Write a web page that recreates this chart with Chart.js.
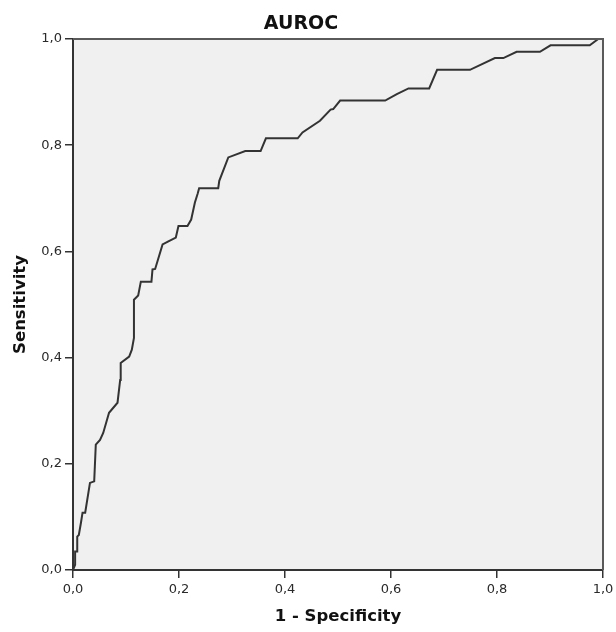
<!DOCTYPE html>
<html>
<head>
<meta charset="utf-8">
<script src="https://cdn.jsdelivr.net/npm/chart.js@4/dist/chart.umd.min.js"></script>
<style>
  html, body { margin: 0; padding: 0; background: #ffffff; }
  canvas { display: block; }
</style>
</head>
<body>
<canvas id="c" width="616" height="632"></canvas>
<script>
// ROC curve data (1 - Specificity, Sensitivity)
const fpr = [0.000, 0.004, 0.004, 0.008, 0.008, 0.011, 0.015, 0.018, 0.023, 0.032,
             0.040, 0.043, 0.051, 0.057, 0.068, 0.084, 0.089, 0.090, 0.106, 0.111,
             0.115, 0.115, 0.123, 0.128, 0.148, 0.150, 0.155, 0.169, 0.180, 0.194,
             0.199, 0.216, 0.223, 0.230, 0.235, 0.238, 0.274, 0.276, 0.293, 0.325,
             0.354, 0.364, 0.424, 0.433, 0.466, 0.486, 0.491, 0.504, 0.589, 0.611,
             0.633, 0.672, 0.687, 0.749, 0.796, 0.812, 0.837, 0.881, 0.901, 0.975,
             0.991, 1.000];
const tpr = [0.000, 0.010, 0.035, 0.035, 0.063, 0.066, 0.089, 0.108, 0.108, 0.164,
             0.167, 0.236, 0.245, 0.258, 0.296, 0.315, 0.358, 0.390, 0.402, 0.415,
             0.437, 0.509, 0.517, 0.543, 0.543, 0.566, 0.567, 0.613, 0.619, 0.626,
             0.648, 0.648, 0.660, 0.692, 0.708, 0.719, 0.719, 0.733, 0.777, 0.789,
             0.789, 0.813, 0.813, 0.824, 0.846, 0.867, 0.868, 0.884, 0.884, 0.896,
             0.907, 0.907, 0.942, 0.942, 0.964, 0.964, 0.976, 0.976, 0.988, 0.988,
             1.000, 1.000];
const tickValues = [0, 0.2, 0.4, 0.6, 0.8, 1.0];
const chartTitle = 'AUROC';
const xTitle = '1 - Specificity';
const yTitle = 'Sensitivity';

const points = fpr.map((x, i) => ({ x: x, y: tpr[i] }));
const fmt = v => Number(v).toFixed(1).replace('.', ',');

const framePlugin = {
  id: 'frame',
  beforeDraw(chart) {
    const { ctx, chartArea: a } = chart;
    ctx.save();
    ctx.fillStyle = '#f0f0f0';
    ctx.fillRect(a.left, a.top, a.right - a.left, a.bottom - a.top);
    ctx.restore();
  },
  afterDatasetsDraw(chart) {
    const { ctx, chartArea: a } = chart;
    ctx.save();
    ctx.strokeStyle = '#5a5a5a';
    ctx.lineWidth = 2;
    ctx.beginPath();
    ctx.moveTo(a.left, a.top);
    ctx.lineTo(a.right, a.top);
    ctx.lineTo(a.right, a.bottom);
    ctx.stroke();
    ctx.restore();
  },
  afterDraw(chart) {
    const { ctx } = chart;
    ctx.save();
    ctx.fillStyle = '#111111';
    ctx.font = 'bold 19px "DejaVu Sans"';
    ctx.textAlign = 'center';
    ctx.textBaseline = 'middle';
    ctx.fillText(chartTitle, 301, 24);
    ctx.restore();
  }
};

const tickFont = { family: '"DejaVu Sans"', size: 13 };
const titleFont = { family: '"DejaVu Sans"', size: 16.5, weight: 'bold' };

new Chart(document.getElementById('c'), {
  type: 'line',
  data: {
    datasets: [{
      data: points,
      borderColor: '#333333',
      borderWidth: 2,
      pointRadius: 0,
      tension: 0,
      fill: false
    }]
  },
  options: {
    responsive: false,
    animation: false,
    devicePixelRatio: 1,
    layout: { padding: { top: 39, right: 13, left: 0, bottom: 0 } },
    plugins: {
      legend: { display: false },
      tooltip: { enabled: false },
      title: { display: false }
    },
    scales: {
      x: {
        type: 'linear',
        min: 0, max: 1,
        afterBuildTicks: s => { s.ticks = tickValues.map(v => ({ value: v })); },
        afterFit: s => { s.height = 62; s.paddingLeft = 0; s.paddingRight = 0; },
        ticks: { callback: fmt, color: '#2a2a2a', font: tickFont, padding: 4, maxRotation: 0, autoSkip: false },
        grid: { drawOnChartArea: false, drawTicks: true, tickLength: 8, color: '#333333', lineWidth: 1.5 },
        border: { display: true, color: '#333333', width: 2 },
        title: { display: true, text: xTitle, color: '#111111', font: titleFont, padding: { top: 0, bottom: 5 } }
      },
      y: {
        type: 'linear',
        min: 0, max: 1,
        afterBuildTicks: s => { s.ticks = tickValues.map(v => ({ value: v })); },
        afterFit: s => { s.width = 73; s.paddingTop = 0; s.paddingBottom = 0; },
        ticks: { callback: fmt, color: '#2a2a2a', font: tickFont, padding: 3, autoSkip: false },
        grid: { drawOnChartArea: false, drawTicks: true, tickLength: 8, color: '#333333', lineWidth: 1.5 },
        border: { display: true, color: '#333333', width: 2 },
        title: { display: true, text: yTitle, color: '#111111', font: titleFont, padding: { top: 11, bottom: 0 } }
      }
    }
  },
  plugins: [framePlugin]
});
</script>
</body>
</html>
